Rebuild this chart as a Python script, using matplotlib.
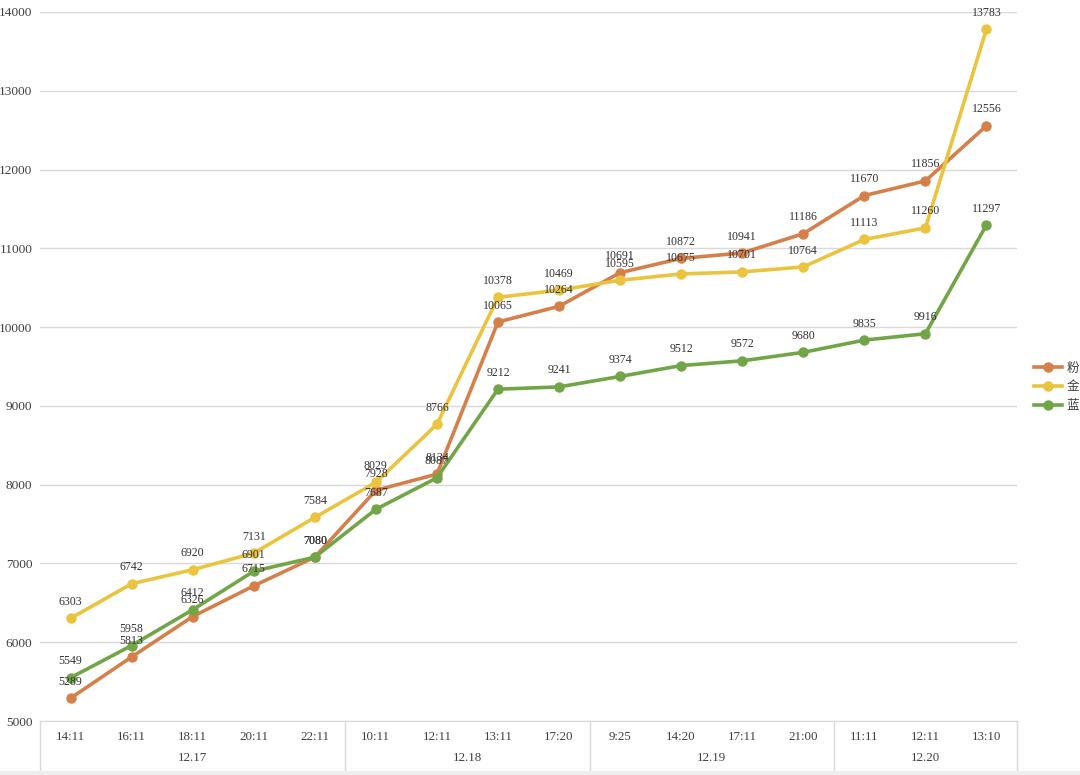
import matplotlib
matplotlib.use("Agg")
import matplotlib.pyplot as plt
from matplotlib.lines import Line2D

plt.rcParams['font.family'] = ['Liberation Serif', 'Noto Sans CJK SC', 'DejaVu Sans']

times = ["14:11", "16:11", "18:11", "20:11", "22:11",
         "10:11", "12:11", "13:11", "17:20",
         "9:25", "14:20", "17:11", "21:00",
         "11:11", "12:11", "13:10"]
groups = ["12.17", "12.18", "12.19", "12.20"]
group_sizes = [5, 4, 4, 3]

series_names = ["粉", "金", "蓝"]
fen = [5289, 5813, 6326, 6715, 7080, 7928, 8134, 10065, 10264, 10691, 10872, 10941, 11186, 11670, 11856, 12556]
jin = [6303, 6742, 6920, 7131, 7584, 8029, 8766, 10378, 10469, 10595, 10675, 10701, 10764, 11113, 11260, 13783]
lan = [5549, 5958, 6412, 6901, 7080, 7687, 8087, 9212, 9241, 9374, 9512, 9572, 9680, 9835, 9916, 11297]
colors = ["#D5804A", "#EAC43E", "#72A548"]

fig = plt.figure(figsize=(10.8, 7.75), dpi=100)
ax = fig.add_axes([40/1080, 1 - 721/775, (1017 - 40)/1080, (721 - 12)/775])

x = list(range(len(times)))
for vals, c, name in zip([fen, jin, lan], colors, series_names):
    ax.plot(x, vals, color=c, lw=2.6, marker='o', ms=6.5, label=name, zorder=3)
    for xi, v in zip(x, vals):
        ax.annotate(str(v), (xi, v), xytext=(0, 7.5), textcoords='offset points',
                    ha='center', va='bottom', fontsize=8.6, color='#333333', zorder=4)

ax.set_xlim(-0.5, len(times) - 0.5)
ax.set_ylim(5000, 14000)
ax.set_yticks(range(5000, 14001, 1000))
ax.yaxis.grid(True, color='#d9d9d9', lw=1)
ax.set_axisbelow(True)
for s in ['top', 'right', 'left']:
    ax.spines[s].set_visible(False)
ax.spines['bottom'].set_color('#d9d9d9')
ax.set_xticks([])
ax.tick_params(axis='y', length=0, pad=5.5, labelsize=9.6, labelcolor='#404040')

axh = 721 - 12
row1 = (721 - 737) / axh
row2 = (721 - 758) / axh
bottom = (721 - 770) / axh
trans = ax.get_xaxis_transform()
for xi, t in zip(x, times):
    ax.text(xi, row1, t, transform=trans, ha='center', va='center', fontsize=9.4, color='#404040')
start = 0
bounds = [-0.5]
for g, n in zip(groups, group_sizes):
    center = start + (n - 1) / 2
    ax.text(center, row2, g, transform=trans, ha='center', va='center', fontsize=9.4, color='#404040')
    start += n
    bounds.append(start - 0.5)
for b in bounds:
    ax.add_line(Line2D([b, b], [0, bottom], transform=trans, color='#d9d9d9', lw=1, clip_on=False))

handles = [Line2D([0], [0], color=c, lw=2.6, marker='o', ms=6.5) for c in colors]
fig.legend(handles, series_names, loc='center left', bbox_to_anchor=(1034/1080, 1 - 387/775),
           frameon=False, handlelength=2.2, handletextpad=0.4, labelspacing=0.45,
           borderpad=0, borderaxespad=0,
           labelcolor='#404040', prop={'family': ['Noto Sans CJK SC'], 'size': 9})

fig.add_artist(Line2D([0, 1], [1 - 773/775, 1 - 773/775], transform=fig.transFigure, color='#eeeeee', lw=3))

fig.savefig("out.png", dpi=100, facecolor='white')
